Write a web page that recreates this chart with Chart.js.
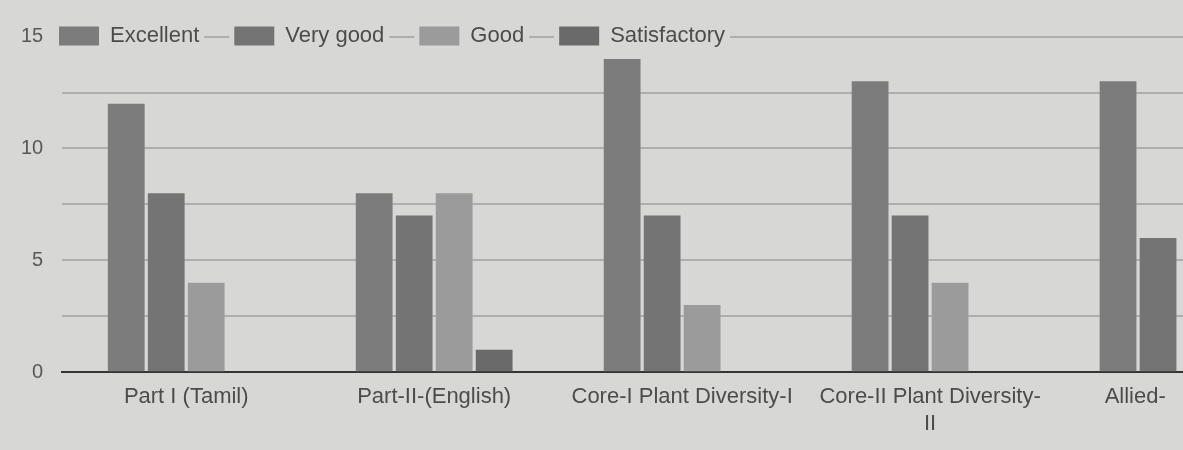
<!DOCTYPE html>
<html>
<head>
<meta charset="utf-8">
<script src="https://cdn.jsdelivr.net/npm/chart.js@4.4.1/dist/chart.umd.min.js"></script>
<style>
  html, body { margin: 0; padding: 0; width: 1183px; height: 450px; overflow: hidden; background: #d7d8d5; }
  #wrap { position: relative; width: 1320px; height: 450px; }
</style>
</head>
<body>
<div id="wrap"><canvas id="c" width="1320" height="450"></canvas></div>
<script>
// ---- data ----
const categories = [
  "Part I (Tamil)",
  "Part-II-(English)",
  "Core-I Plant Diversity-I",
  ["Core-II Plant Diversity-", "II"],
  "Allied-"
];
const seriesNames = ["Excellent", "Very good", "Good", "Satisfactory"];
const excellent    = [12, 8, 14, 13, 13];
const veryGood     = [8, 7, 7, 7, 6];
const good         = [4, 8, 3, 4, null];   // last group cut off in the picture
const satisfactory = [0, 1, 0, 0, null];   // last group cut off in the picture
const yTickLabels  = [0, 5, 10, 15];

// ---- styling ----
const PAGE_BG = "#d7d8d5";
const colors = ["#7c7c7c", "#747474", "#9b9b9b", "#6a6a6a"];
const GRID = "#aeafac";
const TEXT = "#4c4c4c";
const FONT = "'Liberation Sans', Arial, sans-serif";

const seriesValues = [excellent, veryGood, good, satisfactory];
const datasets = seriesNames.map((name, i) => ({
  label: name,
  data: seriesValues[i],
  backgroundColor: colors[i],
  borderWidth: 0,
  categoryPercentage: 0.645,
  barPercentage: 0.92
}));

// legend drawn inside the plot, on the top (15) gridline, like the original
const legendOverlay = {
  id: "legendOverlay",
  afterLayout(chart) {
    const lg = chart.legend;
    if (!lg) return;
    lg.left = 24;
    lg.top = -10;
    lg.bottom = chart.chartArea.top + 80;
  },
  beforeDatasetsDraw(chart) {
    const lg = chart.legend;
    if (!lg || !lg.legendHitBoxes) return;
    const ctx = chart.ctx;
    ctx.save();
    ctx.fillStyle = PAGE_BG;
    lg.legendHitBoxes.forEach(h => {
      ctx.fillRect(h.left - 5, h.top - 2, h.width + 10, h.height + 4);
    });
    ctx.restore();
    lg.draw();
  }
};

new Chart(document.getElementById("c"), {
  type: "bar",
  data: { labels: categories, datasets },
  plugins: [legendOverlay],
  options: {
    responsive: false,
    animation: false,
    devicePixelRatio: 1,
    layout: { padding: { left: 2, right: 18, top: 0, bottom: 1 } },
    plugins: {
      tooltip: { enabled: false },
      legend: {
        display: true,
        position: "top",
        align: "start",
        maxHeight: 20,
        labels: {
          boxWidth: 40,
          boxHeight: 19,
          padding: 35,
          color: TEXT,
          font: { family: FONT, size: 22 }
        }
      }
    },
    scales: {
      x: {
        type: "category",
        grid: { display: false, drawTicks: false },
        border: { display: true, color: "#343434", width: 2 },
        ticks: {
          color: TEXT,
          font: { family: FONT, size: 22 },
          padding: 12,
          maxRotation: 0,
          autoSkip: false,
          callback(value, index) {
            const lab = this.getLabelForValue(value);
            // the last label runs past the edge of the printed page
            return index === categories.length - 1 ? lab + "\u00a0".repeat(14) : lab;
          }
        }
      },
      y: {
        min: 0,
        max: 15.25,
        border: { display: false },
        grid: {
          drawTicks: false,
          lineWidth: 2,
          color: (ctx) => (ctx.tick && ctx.tick.value === 0) ? "rgba(0,0,0,0)" : GRID
        },
        ticks: {
          stepSize: 2.5,
          includeBounds: false,
          padding: 19,
          color: "#585858",
          font: { family: FONT, size: 20 },
          callback: (v) => yTickLabels.includes(v) ? String(v) : ""
        }
      }
    }
  }
});
</script>
</body>
</html>
